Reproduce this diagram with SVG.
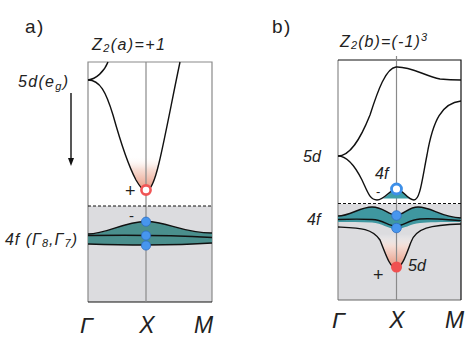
<svg xmlns="http://www.w3.org/2000/svg" width="471" height="343" viewBox="0 0 471 343">
<style>
.t{font-family:"Liberation Sans",Arial,sans-serif;fill:#222;}
.it{font-style:italic;font-size:16px;}
.ax{font-style:italic;font-size:23px;}
.curve{fill:none;stroke:#111;stroke-width:1.4;}
.frame{fill:none;stroke:#8a8a8a;stroke-width:1.2;}
.dash{stroke:#111;stroke-width:1.2;stroke-dasharray:3 2;}
.dot{fill:#4796ee;stroke:#2e6fc2;stroke-width:0.8;}
</style>
<defs>
<linearGradient id="glowA" gradientUnits="userSpaceOnUse" x1="0" y1="156" x2="0" y2="193">
<stop offset="0" stop-color="#ffffff" stop-opacity="0"/>
<stop offset="0.35" stop-color="#f7dcd3" stop-opacity="0.9"/>
<stop offset="1" stop-color="#e68a70"/>
</linearGradient>
<linearGradient id="glowB" gradientUnits="userSpaceOnUse" x1="0" y1="234" x2="0" y2="270">
<stop offset="0" stop-color="#ffffff" stop-opacity="0"/>
<stop offset="0.35" stop-color="#f7dcd3" stop-opacity="0.9"/>
<stop offset="1" stop-color="#e68a70"/>
</linearGradient>
<clipPath id="clipA"><path d="M88,80 C100,80 106,92 113,115 C120,140 128,165 136,180 C140,187 143,191 146,191 C151,191 155,180 159,163 C165,138 172,100 180,62 L88,62 Z"/></clipPath>
<clipPath id="clipB"><path d="M338,227 C360,228 372,228 380,240 C386,255 390,268 396,268 C402,268 406,255 411,242 C416,228 430,225 461,224 L461,205 L338,205 Z"/></clipPath>
<marker id="ah" markerWidth="8" markerHeight="8" refX="4" refY="4" orient="auto" markerUnits="userSpaceOnUse">
<path d="M0,1 L8,4 L0,7 Z" fill="#111"/>
</marker>
</defs>

<!-- Panel a -->
<g id="panel-a">
<rect x="88" y="206" width="124" height="96" fill="#dcdcdf"/>
<rect x="88" y="150" width="124" height="45" fill="url(#glowA)" clip-path="url(#clipA)"/>
<path class="frame" d="M88,302 L88,62 L212,62 L212,302"/>
<line x1="88" y1="302" x2="212" y2="302" stroke="#111" stroke-width="1.2"/>
<line x1="146" y1="62" x2="146" y2="302" stroke="#8a8a8a" stroke-width="1.2"/>
<line class="dash" x1="88" y1="206" x2="212" y2="206"/>
</g>
<g id="band-a">
<path d="M88,234 C108,234 122,222 146,221.5 C166,221 182,233 212,233 L212,243 C170,246 120,245 88,244 Z" fill="#4a8f8d"/>
<path class="curve" d="M88,234 C108,234 122,222 146,221.5 C166,221 182,233 212,233"/>
<path class="curve" d="M88,235.5 C120,235 170,235 212,237.5"/>
<path class="curve" d="M88,244 C120,245 170,246 212,243"/>
</g>
<g id="bands-a">
<path class="curve" d="M88,80 C96,79 104,72 108,62"/>
<path class="curve" d="M88,80 C100,80 106,92 113,115 C120,140 128,165 136,180 C140,187 143,191 146,191 C151,191 155,180 159,163 C165,138 172,100 180,62"/>
</g>
<g id="points-a">
<circle cx="146" cy="190" r="4.6" fill="#fff" stroke="#f05555" stroke-width="2.6"/>
<circle class="dot" cx="146" cy="221.7" r="4.6"/>
<circle class="dot" cx="146" cy="235.5" r="4.6"/>
<circle class="dot" cx="146" cy="245.5" r="4.6"/>
</g>
<g id="labels-a">
<text class="t" x="25" y="33" font-size="19" letter-spacing="1.5">a)</text>
<text class="t it" x="92" y="50" textLength="73" lengthAdjust="spacing">Z<tspan font-size="11" dy="2">2</tspan><tspan dy="-2">(a)=+1</tspan></text>
<text class="t it" x="18" y="87" textLength="50" lengthAdjust="spacing">5d(e<tspan font-size="11" dy="3">g</tspan><tspan dy="-3">)</tspan></text>
<text class="t" x="125" y="197" font-size="18">+</text>
<text class="t" x="129" y="221" font-size="15">-</text>
<text class="t it" x="5" y="245" textLength="72" lengthAdjust="spacing">4f (Γ<tspan font-size="11" dy="2">8</tspan><tspan dy="-2">,Γ</tspan><tspan font-size="11" dy="2">7</tspan><tspan dy="-2">)</tspan></text>
<text class="t ax" x="80" y="333">Γ</text>
<text class="t ax" x="147" y="333" text-anchor="middle">X</text>
<text class="t ax" x="194" y="333">M</text>
</g>
<g id="connectors">
<line x1="71" y1="93" x2="71" y2="162" stroke="#111" stroke-width="1.4" marker-end="url(#ah)"/>
</g>

<!-- Panel b -->
<g id="panel-b">
<rect x="338" y="204" width="123" height="96" fill="#dcdcdf"/>
<rect x="338" y="230" width="123" height="42" fill="url(#glowB)" clip-path="url(#clipB)"/>
<line x1="338" y1="60" x2="338" y2="300" stroke="#8a8a8a" stroke-width="1.2"/>
<line x1="338" y1="300" x2="461" y2="300" stroke="#666" stroke-width="1.2"/>
<path d="M338,60 L461,60 L461,300" fill="none" stroke="#111" stroke-width="1.2"/>
<line x1="396.5" y1="56" x2="396.5" y2="300" stroke="#8a8a8a" stroke-width="1.2"/>
<line class="dash" x1="338" y1="203.5" x2="461" y2="203.5"/>
</g>
<g id="band-b">
<path d="M338,216 C350,216 360,207 372,207 C384,207 388,215 396,215 C404,215 408,207 418,207 C432,207 440,217 461,218 L461,222 C440,222 428,222 420,223 C410,224 404,229 396,229 C388,229 382,223 372,222.5 C360,222 350,222 338,222 Z" fill="#3f97a0"/>
<path class="curve" d="M338,216 C350,216 360,207 372,207 C384,207 388,215 396,215 C404,215 408,207 418,207 C432,207 440,217 461,218"/>
<path class="curve" d="M338,219.5 C352,219 362,219 372,219.5 C384,220 388,226 396,226 C404,226 408,220 420,219 C435,218 448,220 461,220.5"/>
</g>
<g id="bands-b">
<path d="M383,198.5 C388,196 392,189 396.5,189 C401,189 405,196 411,198.5 Z" fill="#3f9fa8"/>
<path class="curve" d="M338,156 C350,156 360,140 370,115 C378,90 386,68 396,67 C410,66 425,76 440,79 C450,80 455,80 461,80"/>
<path class="curve" d="M338,156 C348,156 356,168 362,180 C368,193 370,200 377,200 C385,200 390,189 396.5,189 C403,189 407,200 414,200 C420,200 422,180 427,155 C433,120 442,103 461,101"/>
<path class="curve" d="M338,227 C360,228 372,228 380,240 C386,255 390,268 396,268 C402,268 406,255 411,242 C416,228 430,225 461,224"/>
</g>
<g id="points-b">
<circle cx="396.5" cy="189" r="5" fill="#fff" stroke="#3d8fe8" stroke-width="2.8"/>
<circle class="dot" cx="396.5" cy="215.5" r="4.8"/>
<circle class="dot" cx="396.5" cy="228" r="4.8"/>
<circle cx="396.5" cy="267" r="5.5" fill="#f05050"/>
</g>
<g id="labels-b">
<text class="t" x="272" y="33" font-size="19" letter-spacing="1.5">b)</text>
<text class="t it" x="340" y="47" textLength="87" lengthAdjust="spacing">Z<tspan font-size="11" dy="2">2</tspan><tspan dy="-2">(b)=(-1)</tspan><tspan font-size="11" dy="-6">3</tspan></text>
<text class="t it" x="303" y="162">5d</text>
<text class="t it" x="375" y="179" font-size="15">4f</text>
<text class="t" x="376" y="196" font-size="13">-</text>
<text class="t it" x="307" y="225">4f</text>
<text class="t it" x="408" y="271">5d</text>
<text class="t" x="373" y="281" font-size="18">+</text>
<text class="t ax" x="332" y="328">Γ</text>
<text class="t ax" x="397" y="328" text-anchor="middle">X</text>
<text class="t ax" x="445" y="328">M</text>
</g>
</svg>
